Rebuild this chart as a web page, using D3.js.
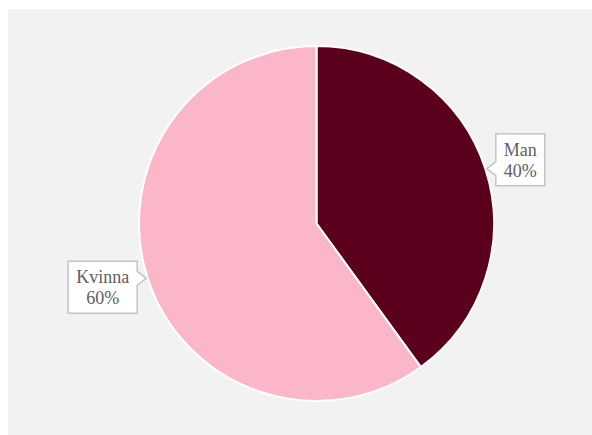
<!DOCTYPE html>
<html>
<head>
<meta charset="utf-8">
<script src="https://cdn.jsdelivr.net/npm/d3@7"></script>
<style>
html,body{margin:0;padding:0;background:#fff;}
svg{display:block;}
</style>
</head>
<body>
<svg id="chart" width="592" height="435"></svg>
<script>
const categories = ["Man", "Kvinna"];
const values = [40, 60];
const labels = ["40%", "60%"];
const colors = ["#5a001c", "#fcb6ca"];

const W = 592, H = 435;
const svg = d3.select("#chart");
svg.append("rect").attr("x", 8).attr("y", 9).attr("width", W - 8).attr("height", H - 9).attr("fill", "#f2f2f2");

const cx = 316.5, cy = 223.5, R = 177.5;
const pie = d3.pie().sort(null).value(d => d.v);
const arcs = pie(categories.map((c, i) => ({c, v: values[i], l: labels[i], col: colors[i]})));
const arc = d3.arc().innerRadius(0).outerRadius(R);

const g = svg.append("g").attr("transform", `translate(${cx},${cy})`);
g.selectAll("path.slice").data(arcs).enter().append("path")
  .attr("class", "slice")
  .attr("d", arc)
  .attr("fill", d => d.data.col)
  .attr("stroke", "#fff")
  .attr("stroke-width", 2)
  .attr("stroke-linejoin", "round");

// labels with callout boxes
const fs = 18, lh = 21, padX = 8, padY = 9, ptr = 9, half = 7;
arcs.forEach(d => {
  const a = (d.startAngle + d.endAngle) / 2;
  const tx = R * Math.sin(a), ty = -R * Math.cos(a);
  const right = Math.sin(a) >= 0;
  const lg = g.append("g");
  const t = lg.append("text")
    .attr("font-family", "'Liberation Serif', 'Times New Roman', serif")
    .attr("font-size", fs)
    .attr("fill", "#606060")
    .attr("text-anchor", "middle");
  t.append("tspan").attr("x", 0).attr("dy", 0).text(d.data.c);
  t.append("tspan").attr("x", 0).attr("dy", lh).text(d.data.l);
  const bb = t.node().getBBox();
  const wText = Math.max(...t.selectAll("tspan").nodes().map(n => n.getComputedTextLength()));
  const bw = Math.round(wText + 2 * padX);
  const bh = 52;
  const boxCy = ty + (right ? -9 : 9);
  const bx0 = right ? tx + ptr + 1.5 : tx - ptr - 1.5 - bw;
  const by0 = boxCy - bh / 2;
  const py = ty; // pointer vertical center
  let p;
  if (right) {
    p = `M${bx0},${by0} H${bx0 + bw} V${by0 + bh} H${bx0} V${py + half} L${tx + 1.5},${py} L${bx0},${py - half} Z`;
  } else {
    const bx1 = bx0 + bw;
    p = `M${bx0},${by0} H${bx1} V${py - half} L${tx - 1.5},${py} L${bx1},${py + half} V${by0 + bh} H${bx0} Z`;
  }
  lg.insert("path", "text").attr("d", p).attr("fill", "#fff").attr("stroke", "#c4c4c4").attr("stroke-width", 1.5);
  // position text: first baseline at by0 + padY + cap height
  const base1 = by0 + padY + 13;
  t.attr("transform", `translate(${bx0 + bw / 2},${base1})`);
});
</script>
</body>
</html>
